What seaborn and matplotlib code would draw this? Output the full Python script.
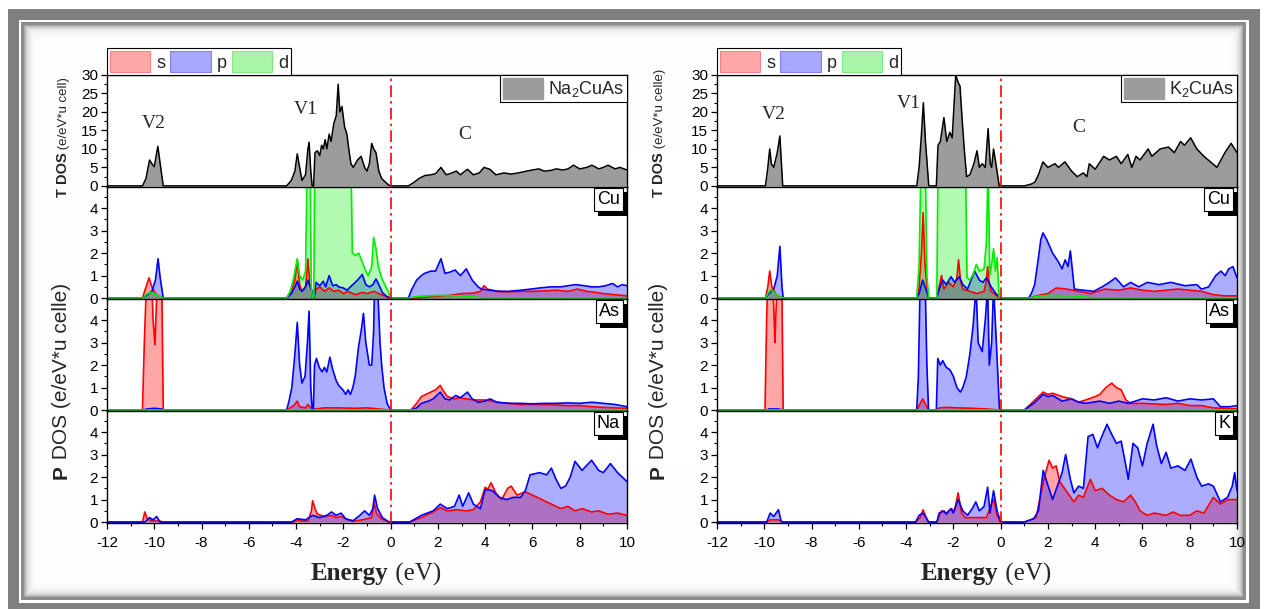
import numpy as np
import pandas as pd
import matplotlib
matplotlib.use("Agg")
import matplotlib.pyplot as plt
import matplotlib.patheffects as pe
import seaborn as sns
from matplotlib.patches import Patch
from matplotlib.ticker import MultipleLocator
from matplotlib.transforms import IdentityTransform
from matplotlib.offsetbox import TextArea, HPacker, AnchoredOffsetbox

# ---------------------------------------------------------------------------
# Density of states, (energy in eV, states/eV per unit cell) breakpoints
# ---------------------------------------------------------------------------
ENERGY_TICKS = [-12, -10, -8, -6, -4, -2, 0, 2, 4, 6, 8, 10]

# ---- Na2CuAs -------------------------------------------------------------
NA2CUAS_TDOS = [(-12, 0), (-10.5, 0), (-10.35, 2.0), (-10.2, 7.0), (-10.1, 6.0), (-10.0, 5.2), (-9.85, 10.7),
                (-9.75, 6.0), (-9.62, 0), (-4.4, 0), (-4.2, 1.5), (-4.05, 4.0), (-3.95, 8.7), (-3.85, 5.0),
                (-3.75, 1.5), (-3.6, 3.0), (-3.5, 10.0), (-3.45, 11.8), (-3.38, 4.0), (-3.32, 0), (-3.26, 0),
                (-3.2, 9.0), (-3.1, 9.5), (-3.0, 8.2), (-2.92, 11.0), (-2.85, 10.0), (-2.77, 12.5), (-2.7, 10.0),
                (-2.6, 14.0), (-2.52, 12.0), (-2.4, 17.0), (-2.3, 19.0), (-2.22, 27.5), (-2.15, 20.0),
                (-2.06, 21.5), (-1.95, 16.0), (-1.85, 14.0), (-1.75, 9.0), (-1.68, 6.0), (-1.58, 5.0),
                (-1.4, 7.0), (-1.25, 8.0), (-1.1, 5.0), (-1.0, 4.0), (-0.9, 6.0), (-0.8, 11.5), (-0.72, 10.0),
                (-0.62, 9.0), (-0.5, 4.0), (-0.38, 2.0), (-0.22, 1.0), (-0.1, 0.3), (0, 0), (0.75, 0),
                (1.0, 1.0), (1.2, 2.0), (1.45, 2.8), (1.7, 3.0), (1.9, 3.3), (2.13, 5.0), (2.35, 3.0),
                (2.6, 3.5), (2.78, 4.0), (2.95, 3.0), (3.25, 4.5), (3.5, 3.0), (3.75, 3.5), (3.95, 5.0),
                (4.2, 4.5), (4.45, 3.0), (4.8, 3.5), (5.1, 3.2), (5.4, 3.5), (5.75, 4.0), (6.0, 4.3),
                (6.27, 4.6), (6.5, 4.0), (6.8, 4.2), (7.0, 4.6), (7.3, 4.3), (7.5, 4.6), (7.74, 5.6),
                (8.0, 4.6), (8.3, 5.0), (8.52, 5.6), (8.8, 4.6), (9.0, 5.0), (9.2, 5.6), (9.5, 4.6),
                (9.7, 5.0), (10, 4.3)]

NA2CUAS_CU_S = [(-12, 0), (-10.5, 0), (-10.35, 0.5), (-10.22, 0.9), (-10.1, 0.5), (-9.95, 0.2), (-9.8, 0.1),
                (-9.62, 0), (-4.4, 0), (-4.2, 0.3), (-4.05, 0.8), (-3.95, 1.7), (-3.85, 0.6), (-3.75, 0.3),
                (-3.6, 0.5), (-3.5, 1.75), (-3.42, 0.6), (-3.33, 0.3), (-3.31, 0), (-3.25, 0), (-3.15, 0.4),
                (-3.0, 0.5), (-2.8, 0.3), (-2.6, 0.45), (-2.4, 0.3), (-2.2, 0.35), (-2.0, 0.2), (-1.8, 0.3),
                (-1.5, 0.15), (-1.2, 0.25), (-1.0, 0.2), (-0.7, 0.3), (-0.4, 0.15), (-0.1, 0.05), (0, 0),
                (1.0, 0), (1.5, 0.05), (2.0, 0.08), (2.5, 0.12), (3.0, 0.2), (3.5, 0.22), (3.8, 0.3),
                (3.95, 0.55), (4.1, 0.4), (4.5, 0.3), (5.0, 0.28), (5.5, 0.3), (6.0, 0.3), (6.5, 0.32),
                (7.0, 0.35), (7.5, 0.3), (7.9, 0.4), (8.3, 0.3), (8.7, 0.25), (9.0, 0.2), (9.5, 0.15), (10, 0.1)]
NA2CUAS_CU_P = [(-12, 0), (-10.5, 0), (-10.3, 0.15), (-10.1, 0.3), (-9.95, 0.8), (-9.84, 1.75), (-9.75, 0.9),
                (-9.62, 0), (-4.4, 0), (-4.2, 0.2), (-4.05, 0.5), (-3.95, 0.75), (-3.85, 0.4), (-3.75, 0.3),
                (-3.6, 0.5), (-3.5, 0.8), (-3.4, 0.5), (-3.33, 0.3), (-3.31, 0), (-3.25, 0), (-3.15, 0.7),
                (-3.0, 0.55), (-2.85, 0.75), (-2.75, 0.5), (-2.6, 1.0), (-2.45, 0.55), (-2.3, 0.6), (-2.2, 0.5),
                (-2.0, 0.45), (-1.85, 0.35), (-1.6, 0.6), (-1.4, 0.8), (-1.2, 1.05), (-1.05, 0.6), (-0.9, 0.5),
                (-0.75, 0.6), (-0.62, 0.85), (-0.5, 0.6), (-0.35, 0.25), (-0.15, 0.05), (0, 0), (0.75, 0),
                (0.9, 0.4), (1.1, 0.8), (1.3, 1.0), (1.44, 1.1), (1.7, 1.2), (1.9, 1.2), (2.13, 1.75),
                (2.3, 1.1), (2.5, 1.15), (2.73, 1.25), (2.95, 1.0), (3.2, 1.3), (3.45, 0.8), (3.7, 0.5),
                (3.85, 0.4), (4.2, 0.35), (4.6, 0.3), (5.0, 0.3), (5.5, 0.35), (5.93, 0.4), (6.3, 0.45),
                (6.79, 0.5), (7.2, 0.5), (7.5, 0.55), (7.83, 0.6), (8.2, 0.55), (8.5, 0.5), (8.8, 0.5),
                (9.1, 0.55), (9.38, 0.65), (9.6, 0.5), (9.8, 0.6), (10, 0.55)]
NA2CUAS_CU_D = [(-12, 0), (-10.5, 0), (-10.3, 0.2), (-10.15, 0.25), (-10.0, 0.2), (-9.8, 0.1), (-9.62, 0),
                (-4.4, 0), (-4.25, 0.3), (-4.1, 0.9), (-3.95, 1.75), (-3.85, 1.0), (-3.72, 0.8), (-3.6, 1.2),
                (-3.5, 8.0), (-3.42, 8.0), (-3.36, 0.5), (-3.31, 0), (-3.25, 0), (-3.2, 8.0), (-2.5, 9.0),
                (-1.7, 8.0), (-1.62, 2.0), (-1.5, 1.9), (-1.35, 2.0), (-1.2, 1.6), (-1.05, 1.2), (-0.95, 1.0),
                (-0.8, 1.4), (-0.72, 2.7), (-0.62, 2.2), (-0.52, 1.4), (-0.38, 0.9), (-0.25, 0.6), (-0.1, 0.3),
                (0, 0), (0.75, 0), (1.2, 0.08), (2.0, 0.12), (3.0, 0.1), (3.5, 0.05), (4.0, 0), (10, 0)]

NA2CUAS_AS_S = [(-12, 0), (-10.5, 0), (-10.42, 3.0), (-10.32, 6.0), (-10.15, 7.0), (-10.05, 4.0), (-9.97, 2.9),
                (-9.9, 5.0), (-9.8, 7.0), (-9.68, 5.5), (-9.62, 0), (-4.4, 0), (-4.1, 0.2), (-3.95, 0.4),
                (-3.85, 0.15), (-3.6, 0.1), (-3.5, 0.25), (-3.33, 0.05), (-3.31, 0), (-3.2, 0.05), (-2.8, 0.1),
                (-2.2, 0.1), (-1.5, 0.08), (-1.0, 0.1), (-0.5, 0.05), (0, 0), (0.85, 0), (1.1, 0.3), (1.3, 0.6),
                (1.6, 0.75), (1.9, 0.9), (2.1, 1.1), (2.2, 0.9), (2.4, 0.6), (2.7, 0.5), (2.9, 0.55), (3.2, 0.5),
                (3.5, 0.45), (4.0, 0.45), (4.5, 0.35), (5.0, 0.3), (5.5, 0.25), (6.0, 0.25), (6.5, 0.25),
                (7.5, 0.2), (8.0, 0.2), (8.5, 0.15), (9.0, 0.12), (10, 0.08)]
NA2CUAS_AS_P = [(-12, 0), (-10.5, 0), (-10.3, 0.05), (-10.0, 0.08), (-9.7, 0.05), (-9.62, 0), (-4.4, 0),
                (-4.3, 0.4), (-4.18, 1.0), (-4.05, 2.5), (-3.95, 3.9), (-3.85, 2.0), (-3.75, 1.2), (-3.62, 1.5),
                (-3.52, 3.0), (-3.45, 4.4), (-3.38, 1.0), (-3.32, 0), (-3.27, 0), (-3.22, 2.0), (-3.14, 2.3),
                (-3.02, 1.9), (-2.9, 1.7), (-2.8, 1.9), (-2.7, 1.7), (-2.57, 2.35), (-2.45, 1.8), (-2.3, 1.3),
                (-2.2, 1.1), (-2.02, 0.9), (-1.9, 0.7), (-1.8, 0.9), (-1.7, 0.7), (-1.6, 1.0), (-1.5, 1.5),
                (-1.36, 2.8), (-1.25, 3.5), (-1.15, 4.3), (-1.05, 3.0), (-0.9, 2.0), (-0.8, 2.0), (-0.72, 3.5),
                (-0.68, 5.5), (-0.55, 5.5), (-0.45, 3.0), (-0.38, 2.0), (-0.28, 1.0), (-0.15, 0.3), (0, 0),
                (0.85, 0), (1.1, 0.1), (1.3, 0.3), (1.6, 0.4), (1.8, 0.5), (2.1, 0.8), (2.3, 0.5), (2.5, 0.45),
                (2.75, 0.65), (2.95, 0.55), (3.25, 0.8), (3.45, 0.5), (3.7, 0.35), (4.0, 0.4), (4.2, 0.5),
                (4.5, 0.35), (5.0, 0.3), (5.5, 0.3), (6.0, 0.28), (6.5, 0.3), (7.0, 0.3), (7.5, 0.32),
                (8.0, 0.3), (8.5, 0.35), (9.0, 0.3), (9.5, 0.25), (10, 0.15)]
NA2CUAS_AS_D = [(-12, 0), (10, 0)]

NA2CUAS_NA_S = [(-12, 0), (-10.5, 0), (-10.4, 0.45), (-10.3, 0.15), (-10.1, 0.05), (-9.8, 0.05), (-9.6, 0),
                (-4.2, 0), (-4.0, 0.05), (-3.95, 0.1), (-3.8, 0.05), (-3.5, 0.05), (-3.35, 0.5), (-3.3, 0.95),
                (-3.2, 0.6), (-3.1, 0.35), (-2.8, 0.25), (-2.5, 0.3), (-2.3, 0.2), (-2.1, 0.25), (-1.8, 0.1),
                (-1.5, 0.05), (-1.2, 0.1), (-1.0, 0.15), (-0.8, 0.2), (-0.7, 0.9), (-0.6, 0.4), (-0.4, 0.15),
                (-0.1, 0.02), (0, 0), (0.8, 0), (1.3, 0.2), (1.8, 0.45), (2.1, 0.65), (2.4, 0.5), (2.8, 0.55),
                (3.2, 0.5), (3.5, 0.55), (3.8, 0.9), (4.0, 1.55), (4.1, 1.45), (4.25, 1.75), (4.45, 1.3),
                (4.7, 1.0), (4.95, 1.5), (5.1, 1.6), (5.35, 1.2), (5.7, 1.35), (6.0, 1.2), (6.4, 1.0),
                (6.8, 0.8), (7.2, 0.6), (7.5, 0.7), (7.8, 0.5), (8.1, 0.6), (8.5, 0.45), (8.8, 0.5),
                (9.2, 0.35), (9.6, 0.4), (10, 0.3)]
NA2CUAS_NA_P = [(-12, 0), (-10.4, 0), (-10.2, 0.2), (-10.05, 0.1), (-9.9, 0.25), (-9.75, 0),
                (-4.2, 0), (-3.95, 0.15), (-3.6, 0.1), (-3.3, 0.3), (-3.0, 0.2), (-2.7, 0.3), (-2.5, 0.45),
                (-2.3, 0.3), (-2.1, 0.4), (-1.9, 0.15), (-1.6, 0.05), (-1.3, 0.3), (-1.1, 0.5), (-0.9, 0.3),
                (-0.75, 0.6), (-0.68, 1.2), (-0.55, 0.6), (-0.35, 0.2), (-0.1, 0.02), (0, 0), (0.8, 0),
                (1.3, 0.3), (1.8, 0.5), (2.1, 0.8), (2.4, 0.6), (2.7, 0.7), (2.9, 1.2), (3.05, 0.7), (3.3, 1.3),
                (3.5, 0.8), (3.8, 0.6), (4.0, 1.45), (4.3, 1.4), (4.6, 1.1), (4.9, 1.0), (5.2, 1.1), (5.5, 1.1),
                (5.7, 1.4), (5.9, 2.1), (6.3, 2.2), (6.6, 2.1), (6.8, 2.4), (7.0, 1.9), (7.2, 1.5), (7.4, 1.6),
                (7.6, 2.0), (7.8, 2.7), (8.1, 2.3), (8.5, 2.75), (8.8, 2.3), (9.0, 2.2), (9.3, 2.6), (9.6, 2.2),
                (9.8, 2.0), (10, 1.8)]

# ---- K2CuAs --------------------------------------------------------------
K2CUAS_TDOS = [(-12, 0), (-9.95, 0), (-9.85, 5.0), (-9.77, 10.0), (-9.7, 6.0), (-9.6, 5.0), (-9.45, 9.0),
               (-9.34, 13.5), (-9.22, 0), (-3.55, 0), (-3.45, 5.0), (-3.35, 14.0), (-3.27, 22.5), (-3.18, 12.0),
               (-3.04, 0), (-2.72, 0), (-2.65, 11.0), (-2.55, 12.0), (-2.4, 18.5), (-2.28, 12.0), (-2.15, 14.5),
               (-2.05, 13.0), (-1.9, 30.0), (-1.8, 28.0), (-1.72, 27.0), (-1.65, 20.0), (-1.54, 10.0),
               (-1.44, 2.5), (-1.3, 3.0), (-1.13, 6.0), (-1.0, 9.5), (-0.9, 5.0), (-0.78, 6.0), (-0.65, 5.0),
               (-0.53, 15.5), (-0.44, 6.0), (-0.38, 5.0), (-0.3, 10.0), (-0.2, 6.0), (-0.06, 0), (1.0, 0),
               (1.3, 0.5), (1.45, 1.0), (1.6, 3.0), (1.79, 6.5), (2.0, 5.0), (2.3, 6.0), (2.45, 5.0),
               (2.72, 6.5), (3.0, 4.0), (3.24, 2.5), (3.5, 3.5), (3.65, 2.5), (3.75, 6.0), (4.0, 4.5),
               (4.36, 8.0), (4.6, 7.0), (4.9, 8.0), (5.1, 6.0), (5.38, 8.5), (5.55, 5.0), (5.73, 8.0),
               (5.9, 7.0), (6.24, 10.0), (6.4, 8.0), (6.75, 10.0), (7.1, 10.5), (7.35, 9.0), (7.61, 12.0),
               (7.78, 11.0), (8.04, 13.0), (8.3, 10.0), (8.6, 8.0), (8.97, 6.0), (9.15, 5.0), (9.49, 9.0),
               (9.75, 11.5), (10, 9.0)]

K2CUAS_CU_S = [(-12, 0), (-9.95, 0), (-9.85, 0.5), (-9.77, 1.2), (-9.68, 0.5), (-9.5, 0.15), (-9.3, 0.05),
               (-9.2, 0), (-3.55, 0), (-3.45, 0.5), (-3.35, 2.0), (-3.28, 3.8), (-3.2, 1.5), (-3.1, 0.3),
               (-3.04, 0), (-2.7, 0), (-2.6, 0.5), (-2.5, 1.0), (-2.4, 0.4), (-2.2, 0.7), (-2.0, 0.5),
               (-1.85, 0.9), (-1.78, 1.7), (-1.7, 0.8), (-1.6, 0.4), (-1.3, 0.3), (-1.0, 0.2), (-0.7, 0.3),
               (-0.6, 0.8), (-0.55, 1.4), (-0.48, 0.6), (-0.4, 0.3), (-0.1, 0.05), (0, 0), (1.2, 0), (1.5, 0.1),
               (2.0, 0.2), (2.35, 0.45), (2.8, 0.4), (3.3, 0.3), (3.8, 0.2), (4.4, 0.4), (5.0, 0.35),
               (5.5, 0.45), (6.0, 0.35), (6.5, 0.3), (7.0, 0.35), (7.5, 0.4), (8.0, 0.35), (8.5, 0.3),
               (9.0, 0.15), (9.5, 0.1), (10, 0.1)]
K2CUAS_CU_P = [(-12, 0), (-9.95, 0), (-9.8, 0.2), (-9.6, 0.4), (-9.45, 1.0), (-9.34, 2.3), (-9.25, 0.5),
               (-9.2, 0), (-3.55, 0), (-3.45, 0.2), (-3.35, 0.6), (-3.3, 0.8), (-3.2, 0.5), (-3.1, 0.2),
               (-3.04, 0), (-2.7, 0), (-2.6, 0.4), (-2.45, 0.8), (-2.3, 0.6), (-2.1, 0.95), (-1.95, 0.7),
               (-1.75, 0.95), (-1.6, 0.6), (-1.4, 0.4), (-1.25, 0.8), (-1.1, 1.2), (-0.9, 0.8), (-0.75, 0.7),
               (-0.6, 0.9), (-0.4, 0.5), (-0.2, 0.2), (0, 0), (1.18, 0), (1.3, 0.2), (1.44, 0.6), (1.6, 1.8),
               (1.7, 2.6), (1.79, 2.9), (1.95, 2.6), (2.2, 2.0), (2.45, 1.6), (2.6, 1.3), (2.73, 1.7),
               (2.85, 1.4), (2.95, 2.1), (3.12, 0.4), (3.5, 0.35), (3.93, 0.3), (4.3, 0.5), (4.6, 0.7),
               (4.86, 0.9), (5.2, 0.5), (5.5, 0.7), (5.85, 0.5), (6.2, 0.7), (6.7, 0.6), (7.2, 0.7),
               (7.8, 0.55), (8.3, 0.6), (8.5, 0.4), (8.8, 0.5), (9.1, 1.0), (9.32, 1.2), (9.5, 1.0),
               (9.65, 1.3), (9.83, 1.4), (10, 0.9)]
K2CUAS_CU_D = [(-12, 0), (-9.95, 0), (-9.85, 0.2), (-9.7, 0.4), (-9.55, 0.2), (-9.3, 0.05), (-9.2, 0),
               (-3.55, 0), (-3.45, 1.5), (-3.35, 7.0), (-3.2, 7.0), (-3.12, 1.0), (-3.04, 0), (-2.7, 0),
               (-2.64, 7.0), (-1.5, 7.0), (-1.42, 0.9), (-1.3, 0.8), (-1.15, 1.1), (-1.03, 1.5), (-0.9, 1.2),
               (-0.7, 1.3), (-0.6, 2.5), (-0.53, 6.0), (-0.46, 1.0), (-0.38, 1.5), (-0.3, 2.2), (-0.22, 1.2),
               (-0.15, 1.8), (-0.06, 0), (1.2, 0), (1.5, 0.08), (2.0, 0.12), (3.0, 0.1), (3.5, 0.05), (4.0, 0),
               (10, 0)]

K2CUAS_AS_S = [(-12, 0), (-9.97, 0), (-9.9, 4.0), (-9.85, 6.0), (-9.65, 6.0), (-9.58, 4.0), (-9.55, 3.0),
               (-9.5, 4.5), (-9.43, 6.0), (-9.26, 6.0), (-9.2, 0), (-3.55, 0), (-3.4, 0.3), (-3.3, 0.5),
               (-3.2, 0.3), (-3.1, 0.1), (-3.04, 0), (-2.7, 0), (-2.6, 0.1), (-2.3, 0.12), (-1.8, 0.1),
               (-1.2, 0.08), (-0.6, 0.05), (0, 0), (1.0, 0), (1.2, 0.2), (1.5, 0.5), (1.8, 0.8), (2.0, 0.7),
               (2.2, 0.75), (2.6, 0.6), (3.0, 0.5), (3.3, 0.35), (3.6, 0.45), (4.0, 0.6), (4.2, 0.7),
               (4.45, 1.0), (4.7, 1.2), (4.9, 1.0), (5.1, 0.9), (5.3, 0.45), (5.5, 0.3), (6.0, 0.3),
               (7.0, 0.25), (7.5, 0.3), (8.0, 0.2), (8.5, 0.2), (9.0, 0.1), (10, 0.05)]
K2CUAS_AS_P = [(-12, 0), (-9.9, 0), (-9.8, 0.05), (-9.6, 0.05), (-9.4, 0.05), (-9.2, 0), (-3.55, 0),
               (-3.48, 1.5), (-3.4, 6.0), (-3.2, 6.0), (-3.12, 2.0), (-3.05, 0), (-2.72, 0), (-2.66, 2.3),
               (-2.55, 2.0), (-2.45, 2.2), (-2.3, 1.9), (-2.15, 1.8), (-2.0, 1.5), (-1.85, 1.0), (-1.7, 0.8),
               (-1.6, 1.0), (-1.45, 1.5), (-1.3, 2.5), (-1.16, 3.8), (-1.04, 5.5), (-0.95, 3.0), (-0.78, 2.6),
               (-0.65, 4.0), (-0.55, 5.5), (-0.48, 2.0), (-0.38, 3.0), (-0.3, 5.5), (-0.18, 3.0), (-0.05, 0),
               (1.0, 0), (1.4, 0.3), (1.8, 0.7), (2.0, 0.6), (2.2, 0.65), (2.6, 0.4), (3.0, 0.5), (3.3, 0.35),
               (3.6, 0.3), (4.2, 0.4), (4.6, 0.3), (5.0, 0.4), (5.4, 0.3), (6.0, 0.5), (6.5, 0.45), (7.0, 0.55),
               (7.5, 0.4), (8.0, 0.5), (8.5, 0.45), (9.0, 0.5), (9.3, 0.15), (9.7, 0.15), (10, 0.2)]
K2CUAS_AS_D = [(-12, 0), (10, 0)]

K2CUAS_K_S = [(-12, 0), (-9.9, 0), (-9.75, 0.1), (-9.4, 0.1), (-9.25, 0), (-3.6, 0), (-3.4, 0.2), (-3.28, 0.55),
              (-3.15, 0.2), (-3.05, 0), (-2.7, 0), (-2.5, 0.5), (-2.3, 0.4), (-2.1, 0.6), (-1.95, 0.5),
              (-1.8, 1.3), (-1.65, 0.4), (-1.5, 0.2), (-1.0, 0.2), (-0.6, 0.2), (-0.35, 0.9), (-0.3, 1.0),
              (-0.15, 0.3), (0, 0), (1.0, 0), (1.5, 0.2), (1.75, 1.5), (1.85, 2.0), (2.05, 2.75), (2.2, 2.4),
              (2.35, 2.5), (2.5, 1.8), (2.7, 1.5), (2.9, 1.2), (3.1, 0.9), (3.3, 1.2), (3.5, 1.1), (3.8, 1.9),
              (4.0, 1.4), (4.3, 1.5), (4.6, 1.2), (4.9, 1.0), (5.2, 0.9), (5.5, 1.2), (5.7, 0.9), (5.9, 0.5),
              (6.2, 0.3), (6.5, 0.4), (7.0, 0.3), (7.3, 0.45), (7.6, 0.3), (8.0, 0.3), (8.3, 0.5), (8.6, 0.4),
              (9.0, 1.1), (9.3, 0.8), (9.6, 1.0), (10, 1.0)]
K2CUAS_K_P = [(-12, 0), (-9.9, 0), (-9.75, 0.4), (-9.6, 0.25), (-9.4, 0.55), (-9.3, 0.1), (-9.25, 0), (-3.6, 0),
              (-3.45, 0.3), (-3.3, 0.4), (-3.15, 0.2), (-3.05, 0), (-2.7, 0), (-2.6, 0.4), (-2.4, 0.5),
              (-2.3, 0.35), (-2.1, 0.6), (-2.0, 0.4), (-1.8, 1.0), (-1.6, 0.5), (-1.4, 0.3), (-1.2, 0.6),
              (-1.05, 0.9), (-0.9, 0.5), (-0.7, 0.7), (-0.55, 1.55), (-0.45, 0.4), (-0.3, 1.4), (-0.15, 0.5),
              (0, 0), (1.0, 0), (1.4, 0.15), (1.6, 0.5), (1.8, 2.3), (1.95, 1.8), (2.2, 1.0), (2.4, 1.6),
              (2.6, 2.2), (2.75, 3.0), (2.95, 1.9), (3.1, 1.3), (3.3, 1.6), (3.5, 1.5), (3.7, 3.8), (3.9, 3.9),
              (4.1, 3.3), (4.2, 3.6), (4.5, 4.35), (4.7, 3.9), (4.9, 3.5), (5.1, 3.6), (5.3, 2.5), (5.4, 1.9),
              (5.6, 3.5), (5.8, 3.3), (6.0, 2.5), (6.2, 3.5), (6.45, 4.35), (6.6, 3.4), (6.8, 2.6), (7.0, 3.1),
              (7.2, 2.4), (7.5, 2.5), (7.8, 2.3), (8.05, 2.8), (8.3, 2.0), (8.5, 1.6), (8.8, 1.7), (9.0, 1.6),
              (9.3, 0.9), (9.6, 1.1), (9.8, 1.6), (9.9, 2.2), (10, 1.4)]

# ---------------------------------------------------------------------------
# Style
# ---------------------------------------------------------------------------
W, H = 1265, 609
S_COLOR, P_COLOR, D_COLOR = "#ff0000", "#0000ff", "#00ee00"
TDOS_FILL = "#9c9c9c"

sns.set_theme(style="ticks")
plt.rcParams["font.family"] = ["Liberation Sans", "DejaVu Sans"]
plt.rcParams.update({
    "mathtext.fontset": "custom",
    "mathtext.rm": "Liberation Sans",
    "mathtext.it": "Liberation Sans:italic",
    "mathtext.bf": "Liberation Sans:bold",
    "axes.edgecolor": "black",
    "axes.linewidth": 1.0,
    "xtick.color": "black",
    "ytick.color": "black",
    "axes.facecolor": "white",
})

fig = plt.figure(figsize=(W / 100, H / 100), dpi=100)

# Page frame: grey border, thin inner line and soft inner shadow
bg = np.ones((H, W))
bg[9:H, 8:1260] = 0.50
bg[20:603, 19:1249] = 1.0
bg[22:600, 21:1246] = 0.55
yy, xx = np.mgrid[25:597, 24:1243]
dist = np.minimum.reduce([yy - 25, 596 - yy, xx - 24, 1242 - xx]).astype(float)
bg[25:597, 24:1243] = 1.0 - 0.33 * np.exp(-dist / 3.5)
fig.figimage(np.dstack([bg] * 3), xo=0, yo=0, origin="upper", zorder=-10)


def draw_curve(ax, pts, color, alpha):
    e, v = zip(*pts)
    ax.fill_between(e, 0, v, color=color, alpha=alpha, lw=0)
    sns.lineplot(x=list(e), y=list(v), ax=ax, color=color, lw=1.2,
                 estimator=None, sort=False)


def vertical_label(x_px, y_center_px, parts):
    renderer = fig.canvas.get_renderer()
    texts, lengths = [], []
    for s, kw in parts:
        t = fig.text(0, 0, s, rotation=90, rotation_mode="anchor", ha="left",
                     va="baseline", transform=IdentityTransform(), **kw)
        texts.append(t)
        lengths.append(t.get_window_extent(renderer).height)
    y = (H - y_center_px) - sum(lengths) / 2
    for t, length in zip(texts, lengths):
        t.set_position((x_px, y))
        y += length


def boxed_label(ax, text):
    t = ax.annotate(text, xy=(1, 1), xycoords="axes fraction", xytext=(-5, -3),
                    textcoords="offset points", ha="right", va="top", fontsize=13,
                    color="black", zorder=9,
                    bbox=dict(boxstyle="square,pad=0.18", fc="white", ec="black", lw=0.8))
    t.get_bbox_patch().set_path_effects([
        pe.SimplePatchShadow(offset=(3, -3), shadow_rgbFace="black", alpha=1.0),
        pe.Normal()])


compounds = [
    dict(x0=107, title="Na$_2$CuAs", tdos=NA2CUAS_TDOS, unit="cell", tdos_x=67, pdos_x=67,
         tdos_center=137, pdos_center=381,
         pdos=[("Cu", NA2CUAS_CU_S, NA2CUAS_CU_P, NA2CUAS_CU_D),
               ("As", NA2CUAS_AS_S, NA2CUAS_AS_P, NA2CUAS_AS_D),
               ("Na", NA2CUAS_NA_S, NA2CUAS_NA_P, None)],
         peaks=[("V2", -10.0, 17.0), ("V1", -3.58, 20.8), ("C", 3.14, 13.8)]),
    dict(x0=717, title="K$_2$CuAs", tdos=K2CUAS_TDOS, unit="celle", tdos_x=663, pdos_x=664,
         tdos_center=133, pdos_center=381,
         pdos=[("Cu", K2CUAS_CU_S, K2CUAS_CU_P, K2CUAS_CU_D),
               ("As", K2CUAS_AS_S, K2CUAS_AS_P, K2CUAS_AS_D),
               ("K", K2CUAS_K_S, K2CUAS_K_P, None)],
         peaks=[("V2", -9.59, 19.2), ("V1", -3.88, 22.4), ("C", 3.31, 15.7)]),
]

PANEL_TOP, PANEL_H, PANEL_W = 75, 112, 520
tick_font = 11

for comp in compounds:
    axes = []
    for i in range(4):
        top = PANEL_TOP + i * PANEL_H
        ax = fig.add_axes([comp["x0"] / W, 1 - (top + PANEL_H) / H, PANEL_W / W, PANEL_H / H])
        axes.append(ax)
        ax.set_xlim(-12, 10)
        for sp in ax.spines.values():
            sp.set_visible(True)
            sp.set_color("black")
            sp.set_linewidth(1.0)

    # Total DOS
    ax = axes[0]
    e, v = zip(*comp["tdos"])
    ax.fill_between(e, 0, v, color=TDOS_FILL, lw=0)
    sns.lineplot(x=list(e), y=list(v), ax=ax, color="black", lw=1.1, estimator=None, sort=False)
    ax.set_ylim(-0.3, 30)
    ax.yaxis.set_major_locator(MultipleLocator(5))
    ax.yaxis.set_minor_locator(MultipleLocator(2.5))
    for name, xe, ye in comp["peaks"]:
        ax.text(xe, ye, name, ha="center", va="center", fontsize=14,
                fontfamily=["Liberation Serif", "DejaVu Serif"])
    leg = ax.legend(handles=[Patch(fc=TDOS_FILL, ec=TDOS_FILL)], labels=[comp["title"]],
                    loc="upper right", bbox_to_anchor=(1, 1), borderaxespad=0, fontsize=13,
                    handlelength=2.2, handleheight=1.4, handletextpad=0.3, borderpad=0.15,
                    fancybox=False, framealpha=1, edgecolor="black")
    leg.get_frame().set_linewidth(0.8)
    ax.add_artist(leg)
    orb = [Patch(fc="#ffa8a8", ec="#ff8080", lw=0.8),
           Patch(fc="#a8a8ff", ec="#8080ff", lw=0.8),
           Patch(fc="#a8f5a8", ec="#80e880", lw=0.8)]
    leg2 = ax.legend(handles=orb, labels=["s", "p", "d"], ncol=3, loc="lower left",
                     bbox_to_anchor=(0, 1), borderaxespad=0, fontsize=13, handlelength=2.25,
                     handleheight=1.45, handletextpad=0.35, columnspacing=0.25, borderpad=0.15,
                     fancybox=False, framealpha=1, edgecolor="black")
    leg2.get_frame().set_linewidth(0.8)

    # Partial DOS panels
    for ax, (atom, s_pts, p_pts, d_pts) in zip(axes[1:], comp["pdos"]):
        draw_curve(ax, s_pts, S_COLOR, 0.35)
        draw_curve(ax, p_pts, P_COLOR, 0.32)
        if d_pts is not None:
            draw_curve(ax, d_pts, D_COLOR, 0.30)
        ax.set_ylim(-0.04, 4.94)
        ax.set_yticks([0, 1, 2, 3, 4])
        ax.yaxis.set_minor_locator(MultipleLocator(0.5))
        boxed_label(ax, atom)

    for i, ax in enumerate(axes):
        ax.axvline(0, color="red", lw=1.2, ls=(0, (7, 2.5, 1.5, 2.5)), zorder=6)
        ax.set_xlabel("")
        ax.set_ylabel("")
        ax.tick_params(axis="y", which="major", direction="out", length=4, width=0.9,
                       pad=2.5, labelsize=tick_font, left=True, right=False)
        ax.tick_params(axis="y", which="minor", direction="out", length=2.2, width=0.8, left=True)
        if i < 3:
            ax.tick_params(axis="x", which="both", bottom=False, top=False, labelbottom=False)
        else:
            ax.set_xticks(ENERGY_TICKS)
            ax.xaxis.set_minor_locator(MultipleLocator(1))
            ax.tick_params(axis="x", which="major", direction="out", length=4.5, width=0.9,
                           pad=5, labelsize=tick_font)
            ax.tick_params(axis="x", which="minor", direction="out", length=2.5, width=0.8)
            ax.set_xticklabels([str(t) for t in ENERGY_TICKS])

    # Axis titles
    vertical_label(comp["tdos_x"], comp["tdos_center"],
                   [("T DOS", dict(fontsize=10.5, fontweight="bold")),
                    (f" (e/eV*u {comp['unit']})", dict(fontsize=9.5))])
    vertical_label(comp["pdos_x"], comp["pdos_center"],
                   [("P", dict(fontsize=15, fontweight="bold")),
                    (" DOS (e/eV*u celle)", dict(fontsize=15))])

    serif = ["Liberation Serif", "DejaVu Serif"]
    xlab = HPacker(children=[TextArea("Energy", textprops=dict(fontsize=18, fontweight="bold", fontfamily=serif)),
                             TextArea(" (eV)", textprops=dict(fontsize=18, fontfamily=serif))],
                   align="baseline", pad=0, sep=0)
    cx = comp["x0"] + PANEL_W / 2 + 9
    box = AnchoredOffsetbox(loc="center", child=xlab, pad=0, borderpad=0, frameon=False,
                            bbox_to_anchor=(cx, H - 574), bbox_transform=IdentityTransform())
    fig.add_artist(box)

fig.savefig("out.png", dpi=100)
